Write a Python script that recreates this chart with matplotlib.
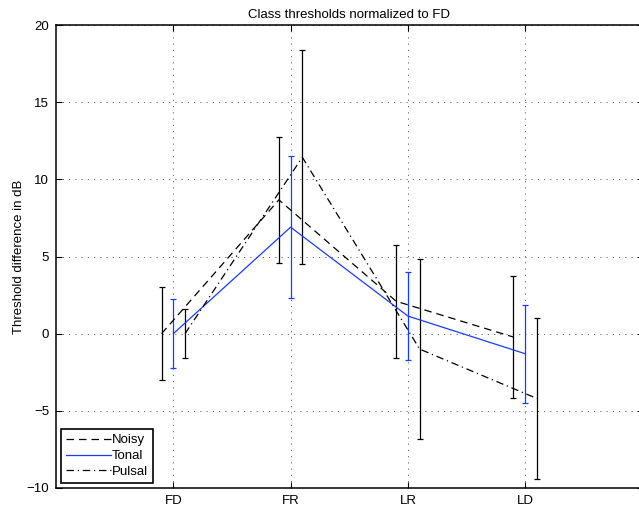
import matplotlib
matplotlib.use('Agg')
import matplotlib.pyplot as plt
import numpy as np

plt.rcParams['font.family'] = ['Liberation Sans', 'DejaVu Sans']

categories = ['FD', 'FR', 'LR', 'LD']

noisy_mean = [0.0, 8.67, 2.1, -0.22]
noisy_err = [3.0, 4.07, 3.67, 3.97]

tonal_mean = [0.0, 6.9, 1.14, -1.3]
tonal_err = [2.25, 4.6, 2.84, 3.18]

pulsal_mean = [0.0, 11.43, -1.0, -4.2]
pulsal_err = [1.57, 6.93, 5.84, 5.22]


def main():
    fig = plt.figure(figsize=(6.39, 5.07), dpi=100)
    ax = fig.add_axes([56 / 639, 19 / 507, 586.5 / 639, 463 / 507])

    x = np.arange(1, len(categories) + 1)

    ax.errorbar(x - 0.1, noisy_mean, yerr=noisy_err, color='black', ls=(0, (6, 4)),
                lw=0.9, capsize=2.5, elinewidth=0.9, capthick=0.9, label='Noisy')
    ax.errorbar(x, tonal_mean, yerr=tonal_err, color='#1a3cff', ls='-',
                lw=0.9, capsize=2.5, elinewidth=0.9, capthick=0.9, label='Tonal')
    ax.errorbar(x + 0.1, pulsal_mean, yerr=pulsal_err, color='black', ls=(0, (6, 3, 1, 3)),
                lw=0.9, capsize=2.5, elinewidth=0.9, capthick=0.9, label='Pulsal')

    ax.set_xlim(0, 5)
    ax.set_ylim(-10, 20)
    ax.set_xticks(x)
    ax.set_xticklabels(categories)
    ax.set_yticks(np.arange(-10, 21, 5))
    ax.grid(True, ls=(0, (1.5, 6)), color='#555555', lw=0.6)
    ax.tick_params(direction='in', top=True, right=True, labelsize=9.5, length=4, width=0.8,
                   pad=5)
    for s in ax.spines.values():
        s.set_linewidth(1.1)

    ax.set_ylabel('Threshold difference in dB', fontsize=9.5, labelpad=1)
    ax.set_title('Class thresholds normalized to FD', fontsize=9.5, pad=5)

    leg = ax.legend(handles=[c.lines[0] for c in ax.containers],
                    labels=['Noisy', 'Tonal', 'Pulsal'],
                    loc='lower left', fontsize=9.5, fancybox=False, framealpha=1,
                    edgecolor='black', handlelength=3.4, handletextpad=0.1,
                    borderpad=0.35, labelspacing=0.28, borderaxespad=0.4)
    leg.get_frame().set_linewidth(1.2)

    plt.savefig('out.png', dpi=100)


if __name__ == '__main__':
    main()
